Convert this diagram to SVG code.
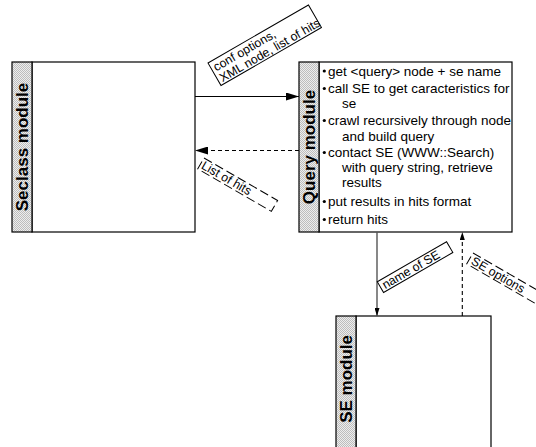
<svg xmlns="http://www.w3.org/2000/svg" width="536" height="447" viewBox="0 0 536 447">
<defs>
<pattern id="chk" width="2" height="2" patternUnits="userSpaceOnUse">
<rect width="2" height="2" fill="#ededed"/>
<rect width="1" height="1" fill="#bdbdbd"/>
<rect x="1" y="1" width="1" height="1" fill="#bdbdbd"/>
</pattern>
<marker id="ah" markerWidth="13" markerHeight="8" refX="13" refY="4" orient="auto" markerUnits="userSpaceOnUse"><path d="M0,0 L13,4 L0,8 z" fill="#000"/></marker>
<marker id="ahs" markerWidth="8" markerHeight="5" refX="8" refY="2.5" orient="auto" markerUnits="userSpaceOnUse"><path d="M0,0 L8,2.5 L0,5 z" fill="#000"/></marker>
</defs>
<style>
.box{fill:#fff;stroke:#000;stroke-width:1.2}
.strip{fill:url(#chk);stroke:#000;stroke-width:1.2}
.title{font-family:"Liberation Sans",Arial,sans-serif;font-weight:bold;font-size:17px;fill:#000}
.item{font-family:"Liberation Sans",Arial,sans-serif;font-size:13.5px;fill:#000}
.lbl{font-family:"Liberation Sans",Arial,sans-serif;font-size:12.3px;fill:#000}
.lblbox{fill:#fff;stroke:#000;stroke-width:1}
.dashbox{stroke-dasharray:9 4}
.conn{fill:none;stroke:#000;stroke-width:1.1}
.gray{stroke:#555;stroke-width:1.4}
.dashed{stroke-dasharray:4 3}
</style>
<rect width="536" height="447" fill="#fff"/>
<g id="seclass">
<rect class="box" x="32" y="62" width="163" height="170"/>
<rect class="strip" x="12" y="62" width="20" height="170"/>
<text class="title" transform="translate(28,147) rotate(-90)" text-anchor="middle">Seclass module</text>
</g>
<g id="query">
<rect class="box" x="319" y="62" width="193" height="170"/>
<rect class="strip" x="299" y="62" width="20" height="170"/>
<text class="title" transform="translate(315,147) rotate(-90)" text-anchor="middle">Query module</text>
<g fill="#000">
<circle cx="324.3" cy="71" r="1.6"/>
<circle cx="324.3" cy="88.5" r="1.6"/>
<circle cx="324.3" cy="120.5" r="1.6"/>
<circle cx="324.3" cy="152.5" r="1.6"/>
<circle cx="324.3" cy="201.5" r="1.6"/>
<circle cx="324.3" cy="219.5" r="1.6"/>
</g>
<text class="item" x="328" y="75.5">get &lt;query&gt; node + se name</text>
<text class="item" x="328" y="93">call SE to get caracteristics for</text>
<text class="item" x="342" y="108">se</text>
<text class="item" x="328" y="125">crawl recursively through node</text>
<text class="item" x="342" y="140.5">and build query</text>
<text class="item" x="328" y="157">contact SE (WWW::Search)</text>
<text class="item" x="342" y="172">with query string, retrieve</text>
<text class="item" x="342" y="187">results</text>
<text class="item" x="328" y="206">put results in hits format</text>
<text class="item" x="328" y="224">return hits</text>
</g>
<g id="se">
<rect class="box" x="356" y="316" width="135" height="145"/>
<rect class="strip" x="336" y="316" width="20" height="145"/>
<text class="title" transform="translate(352,335) rotate(-90)" text-anchor="end">SE module</text>
</g>
<g id="connectors">
<path class="conn" d="M195,96.5 H299" marker-end="url(#ah)"/>
<path class="conn dashed" d="M299,150.5 H195" marker-end="url(#ah)"/>
<path class="conn gray" d="M377,232 V316" marker-end="url(#ahs)"/>
<path class="conn dashed" d="M462.3,316 V232" marker-end="url(#ahs)"/>
</g>
<g id="label-conf" transform="translate(208,63) rotate(-30)">
<rect class="lblbox" x="0" y="0" width="116" height="26"/>
<text class="lbl" x="3" y="11.5">conf options,</text>
<text class="lbl" x="3" y="24">XML node, list of hits</text>
</g>
<g id="label-hits" transform="translate(204,158) rotate(30)">
<rect class="lblbox dashbox" x="0" y="0" width="85" height="12.5"/>
<text class="lbl" x="2" y="10.3">List of hits</text>
</g>
<g id="label-name" transform="translate(377.3,281.7) rotate(-30)">
<rect class="lblbox" x="0" y="0" width="80" height="12.5"/>
<text class="lbl" x="3" y="10.5">name of SE</text>
</g>
<g id="label-seopt" transform="translate(473,253) rotate(30)">
<rect class="lblbox dashbox" x="0" y="0" width="85" height="12.5"/>
<text class="lbl" x="3" y="10.5">SE options</text>
</g>
</svg>
